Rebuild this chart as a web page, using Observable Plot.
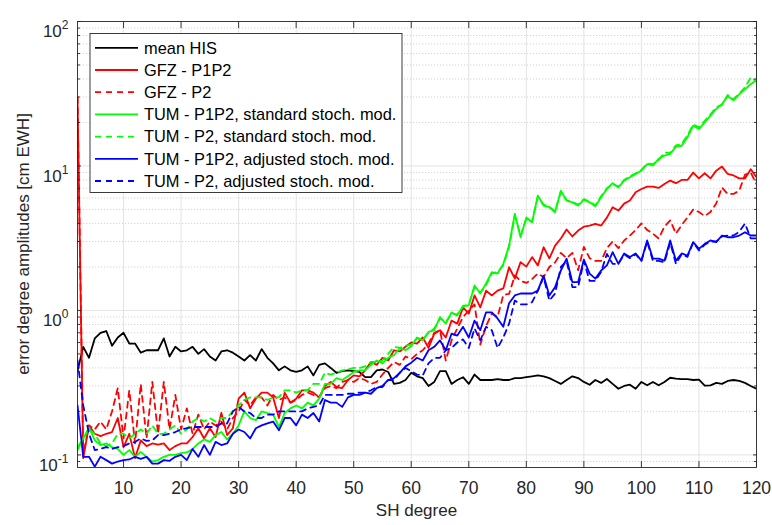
<!DOCTYPE html>
<html><head><meta charset="utf-8">
<script src="https://cdn.jsdelivr.net/npm/d3@7"></script>
<script src="https://cdn.jsdelivr.net/npm/@observablehq/plot@0.6"></script>
<style>
body{margin:0;background:#fff;}
#chart{width:772px;height:525px;position:relative;}
</style></head><body><div id="chart"></div>
<script>
// SH degrees 2..120
const degrees = [
  2,3,4,5,6,7,8,9,10,11,
  12,13,14,15,16,17,18,19,20,21,
  22,23,24,25,26,27,28,29,30,31,
  32,33,34,35,36,37,38,39,40,41,
  42,43,44,45,46,47,48,49,50,51,
  52,53,54,55,56,57,58,59,60,61,
  62,63,64,65,66,67,68,69,70,71,
  72,73,74,75,76,77,78,79,80,81,
  82,83,84,85,86,87,88,89,90,91,
  92,93,94,95,96,97,98,99,100,101,
  102,103,104,105,106,107,108,109,110,111,
  112,113,114,115,116,117,118,119,120];

const meanHIS = [
  0.38,0.56,0.47,0.64,0.70,0.72,0.57,0.65,0.70,0.59,
  0.59,0.51,0.53,0.53,0.53,0.64,0.48,0.56,0.52,0.53,
  0.56,0.50,0.54,0.48,0.45,0.52,0.53,0.51,0.48,0.45,
  0.49,0.45,0.54,0.47,0.43,0.385,0.41,0.385,0.375,0.385,
  0.41,0.355,0.42,0.43,0.40,0.37,0.38,0.385,0.38,0.375,
  0.345,0.345,0.385,0.39,0.375,0.31,0.315,0.33,0.37,0.35,
  0.34,0.30,0.32,0.38,0.38,0.31,0.33,0.345,0.31,0.36,
  0.33,0.33,0.33,0.335,0.33,0.33,0.34,0.34,0.345,0.35,
  0.355,0.35,0.34,0.325,0.31,0.33,0.35,0.34,0.32,0.306,
  0.33,0.315,0.335,0.31,0.287,0.30,0.306,0.287,0.32,0.303,
  0.32,0.303,0.32,0.342,0.337,0.335,0.335,0.33,0.332,0.302,
  0.303,0.315,0.31,0.325,0.33,0.325,0.315,0.30,0.287];

const gfzP1P2 = [
  30,0.095,0.16,0.14,0.135,0.14,0.144,0.18,0.113,0.14,
  0.095,0.126,0.115,0.12,0.118,0.12,0.108,0.115,0.12,0.12,
  0.133,0.153,0.13,0.153,0.133,0.195,0.137,0.153,0.245,0.27,
  0.21,0.245,0.27,0.27,0.25,0.18,0.27,0.23,0.245,0.28,
  0.28,0.27,0.25,0.30,0.32,0.295,0.29,0.33,0.355,0.35,
  0.385,0.44,0.42,0.47,0.45,0.53,0.52,0.56,0.60,0.59,
  0.65,0.55,0.69,0.73,0.65,0.85,0.81,1.05,0.95,1.27,
  1.05,1.37,1.27,1.37,1.42,1.99,1.66,2.16,2.01,2.34,
  2.05,2.74,2.29,2.81,3.15,3.63,3.25,3.57,3.8,3.87,
  3.98,3.87,4.39,5.18,4.91,5.49,5.76,6.58,6.93,7.2,
  7.2,7.05,7.5,7.92,7.6,8.0,8.0,9.0,8.2,8.9,
  8.2,9.28,9.9,8.8,8.6,8.2,8.2,9.5,8.35];

const gfzP2 = [
  30,0.10,0.16,0.15,0.17,0.15,0.20,0.29,0.13,0.28,
  0.12,0.31,0.13,0.32,0.14,0.32,0.15,0.26,0.15,0.21,
  0.14,0.19,0.15,0.17,0.16,0.17,0.15,0.18,0.20,0.24,
  0.22,0.25,0.25,0.22,0.26,0.24,0.25,0.23,0.24,0.26,
  0.27,0.26,0.25,0.29,0.30,0.29,0.32,0.33,0.32,0.34,
  0.33,0.31,0.32,0.36,0.40,0.44,0.42,0.48,0.46,0.50,
  0.53,0.59,0.70,0.73,0.45,0.62,0.75,0.90,1.0,1.1,
  0.58,0.78,0.95,0.90,1.28,1.30,1.75,1.6,1.55,1.65,
  1.8,1.7,2.0,2.15,2.5,2.3,2.5,1.9,2.75,2.3,
  2.2,2.2,2.7,3.0,2.7,3.05,3.3,3.6,4.0,3.6,
  3.4,3.15,3.8,4.2,3.4,3.9,4.4,5.0,4.8,4.5,
  4.8,5.5,7.1,6.4,6.4,6.75,8.7,9.0,7.5];

const tumP1P2std = [
  0.108,0.13,0.155,0.126,0.117,0.12,0.113,0.11,0.10,0.108,
  0.097,0.105,0.097,0.09,0.092,0.097,0.10,0.10,0.103,0.104,
  0.11,0.12,0.128,0.123,0.137,0.144,0.128,0.14,0.16,0.2,
  0.18,0.174,0.2,0.195,0.19,0.156,0.195,0.21,0.22,0.21,
  0.23,0.22,0.245,0.31,0.31,0.34,0.33,0.35,0.375,0.385,
  0.385,0.42,0.45,0.43,0.47,0.49,0.55,0.53,0.565,0.65,
  0.62,0.71,0.73,0.9,0.81,0.97,0.92,1.08,1.08,1.49,
  1.31,1.54,1.84,1.8,2.1,2.81,4.67,3.21,4.4,4.08,
  6.24,5.32,5.18,4.78,6.75,5.76,5.6,5.32,5.85,5.6,
  5.26,6.07,6.93,7.6,7.1,7.92,8.35,8.8,9.28,10.3,
  10.1,11.2,11.8,12.1,13.6,13.8,15.8,19.0,18.0,20.0,
  22.3,24.8,26.8,30.5,28.5,31.3,34.0,36.8,39.3];

const tumP2std = [
  0.113,0.13,0.15,0.14,0.12,0.115,0.12,0.14,0.14,0.13,
  0.14,0.15,0.14,0.16,0.14,0.14,0.15,0.16,0.14,0.15,
  0.17,0.18,0.17,0.18,0.17,0.18,0.18,0.2,0.22,0.24,
  0.25,0.25,0.25,0.24,0.25,0.25,0.28,0.28,0.27,0.28,
  0.28,0.31,0.31,0.37,0.36,0.37,0.385,0.39,0.4,0.4,
  0.41,0.44,0.44,0.45,0.5,0.56,0.55,0.57,0.58,0.64,
  0.63,0.70,0.75,0.88,0.83,0.95,0.94,1.06,1.1,1.45,
  1.33,1.5,1.8,1.85,2.05,2.75,4.5,3.3,4.3,4.1,
  6.1,5.4,5.2,4.85,6.6,5.8,5.65,5.4,5.9,5.65,
  5.35,6.2,7.0,7.5,7.2,8.0,8.5,8.9,9.4,10.4,
  10.3,11.0,12.4,12.3,13.9,14.2,16.3,19.4,18.5,20.5,
  22.8,25.5,26.5,31.0,29.0,31.8,35.0,41.0,38.5];

const tumP1P2adj = [
  0.22,0.097,0.097,0.083,0.097,0.092,0.087,0.09,0.092,0.093,
  0.097,0.094,0.097,0.087,0.087,0.092,0.091,0.097,0.10,0.092,
  0.11,0.097,0.117,0.10,0.123,0.117,0.12,0.14,0.15,0.144,
  0.13,0.153,0.16,0.165,0.17,0.148,0.18,0.18,0.16,0.19,
  0.18,0.195,0.17,0.24,0.23,0.23,0.215,0.25,0.26,0.26,
  0.27,0.265,0.29,0.30,0.33,0.34,0.37,0.41,0.435,0.47,
  0.45,0.53,0.56,0.62,0.53,0.69,0.67,0.77,0.65,0.85,
  0.73,0.97,0.97,0.88,0.77,1.12,1.27,1.31,1.31,1.31,
  1.37,1.74,1.27,1.45,1.89,2.28,1.57,1.57,2.25,1.8,
  1.66,1.89,2.05,2.53,2.1,2.48,2.34,2.48,2.21,3.05,
  2.28,2.28,2.21,3.05,2.21,2.48,2.4,2.97,2.67,2.89,
  3.05,2.97,3.3,3.21,3.21,3.3,3.48,3.3,3.3];

const tumP2adj = [
  0.45,0.22,0.14,0.108,0.11,0.113,0.11,0.113,0.115,0.12,
  0.123,0.13,0.125,0.126,0.137,0.137,0.14,0.144,0.15,0.153,
  0.156,0.156,0.156,0.156,0.156,0.165,0.165,0.2,0.215,0.2,
  0.195,0.18,0.18,0.19,0.19,0.2,0.2,0.2,0.2,0.2,
  0.21,0.215,0.22,0.26,0.26,0.26,0.26,0.265,0.265,0.27,
  0.27,0.28,0.295,0.295,0.33,0.33,0.37,0.4,0.38,0.36,
  0.355,0.43,0.47,0.47,0.53,0.55,0.6,0.63,0.55,0.75,
  0.62,0.77,0.73,0.55,0.65,0.81,1.17,1.1,1.1,1.14,
  1.37,1.7,1.17,1.31,2.0,2.2,1.45,1.45,2.2,1.6,
  1.6,1.85,2.46,2.1,2.1,2.45,2.3,2.45,2.2,3.0,
  2.2,2.2,2.15,2.95,2.1,2.45,2.35,2.95,2.6,2.85,
  3.0,3.0,3.25,3.3,3.3,3.5,4.0,3.15,3.15];

const seriesNames = [
  "mean HIS",
  "GFZ - P1P2",
  "GFZ - P2",
  "TUM - P1P2, standard stoch. mod.",
  "TUM - P2, standard stoch. mod.",
  "TUM - P1P2, adjusted stoch. mod.",
  "TUM - P2, adjusted stoch. mod."];
const seriesValues = [meanHIS, gfzP1P2, gfzP2, tumP1P2std, tumP2std, tumP1P2adj, tumP2adj];
const seriesColors = ["#000000","#ff0000","#ff0000","#00ff00","#00ff00","#0000ff","#0000ff"];
const seriesDashed = [false,false,true,false,true,false,true];

const xTicks = [10,20,30,40,50,60,70,80,90,100,110,120];
const yMajorTicks = [0.1,1,10,100];
const yMinorTicks = [0.09,0.2,0.3,0.4,0.5,0.6,0.7,0.8,0.9,2,3,4,5,6,7,8,9,20,30,40,50,60,70,80,90];

const FONT = "'Liberation Sans', Arial, Helvetica, sans-serif";
const AX = "#262626";
const DASH = "6,5";
const LW = 1.8;

const lineMarks = seriesNames.map((name, k) =>
  Plot.line(degrees.map((d, i) => ({degree: d, value: seriesValues[k][i]})), {
    x: "degree", y: "value",
    stroke: seriesColors[k], strokeWidth: LW,
    strokeDasharray: seriesDashed[k] ? DASH : null,
    strokeLinejoin: "round",
    clip: true
  })
);

const chart = Plot.plot({
  width: 772, height: 525,
  marginLeft: 77, marginRight: 16, marginTop: 21, marginBottom: 58,
  style: {fontFamily: FONT, fontSize: "17px", color: AX, background: "#fff"},
  x: {type: "linear", domain: [2, 120]},
  y: {type: "log", domain: [0.0818, 100]},
  marks: [
    Plot.ruleY(yMinorTicks, {stroke: "#c8c8c8", strokeWidth: 0.8, strokeDasharray: "1.2,1.8"}),
    Plot.ruleY(yMajorTicks, {stroke: "#dcdcdc", strokeWidth: 0.8}),
    Plot.ruleX(xTicks, {stroke: "#dcdcdc", strokeWidth: 0.8}),
    ...lineMarks,
    Plot.frame({stroke: AX, strokeWidth: 0.9}),
    Plot.axisX({ticks: xTicks, tickSize: -6, tickPadding: 20.5, fontSize: 17.5, label: null, stroke: AX, strokeWidth: 0.9}),
    Plot.axisX({anchor: "top", ticks: xTicks, tickSize: -6, tickFormat: () => "", label: null, stroke: AX, strokeWidth: 0.9}),
    Plot.axisY({ticks: yMajorTicks, tickSize: -4, tickPadding: 13, fontSize: 17, label: null, stroke: AX, strokeWidth: 0.9,
      tickFormat: d => "10^" + Math.round(Math.log10(d))}),
    Plot.axisY({anchor: "right", ticks: yMajorTicks, tickSize: -4, tickFormat: () => "", label: null, stroke: AX, strokeWidth: 0.9}),
    Plot.axisY({ticks: yMinorTicks, tickSize: -3, tickFormat: () => "", label: null, stroke: AX, strokeWidth: 0.9}),
    Plot.axisY({anchor: "right", ticks: yMinorTicks, tickSize: -3, tickFormat: () => "", label: null, stroke: AX, strokeWidth: 0.9})
  ]
});

document.getElementById("chart").appendChild(chart);

const svg = d3.select(chart);

// superscript exponents on y tick labels
svg.selectAll('[aria-label="y-axis tick label"] text').each(function() {
  const t = this.textContent;
  if (!t.includes("^")) return;
  const [base, exp] = t.split("^");
  const el = d3.select(this);
  el.text(null).attr("dy", "0.62em");
  el.append("tspan").text(base);
  el.append("tspan").attr("dy", "-8").attr("font-size", "12px").text(exp);
});

// axis titles
svg.append("text")
  .attr("x", 416.5).attr("y", 516)
  .attr("text-anchor", "middle")
  .attr("font-family", FONT).attr("font-size", "17px").attr("fill", AX)
  .text("SH degree");
svg.append("text")
  .attr("transform", "translate(29,244) rotate(-90)")
  .attr("text-anchor", "middle")
  .attr("font-family", FONT).attr("font-size", "17px").attr("fill", AX)
  .text("error degree amplitudes [cm EWH]");

// legend
const lg = svg.append("g");
lg.append("rect").attr("x", 90).attr("y", 33.5).attr("width", 312).attr("height", 159)
  .attr("fill", "#fff").attr("stroke", AX).attr("stroke-width", 0.9);
seriesNames.forEach((name, k) => {
  const yy = 47.8 + k * 22.2;
  lg.append("line").attr("x1", 95).attr("x2", 138).attr("y1", yy).attr("y2", yy)
    .attr("stroke", seriesColors[k]).attr("stroke-width", LW)
    .attr("stroke-dasharray", seriesDashed[k] ? DASH : null);
  lg.append("text").attr("x", 144).attr("y", yy).attr("dy", "0.35em")
    .attr("text-anchor", "start")
    .attr("font-family", FONT).attr("font-size", "16.4px").attr("fill", "#000")
    .text(name);
});
</script></body></html>
